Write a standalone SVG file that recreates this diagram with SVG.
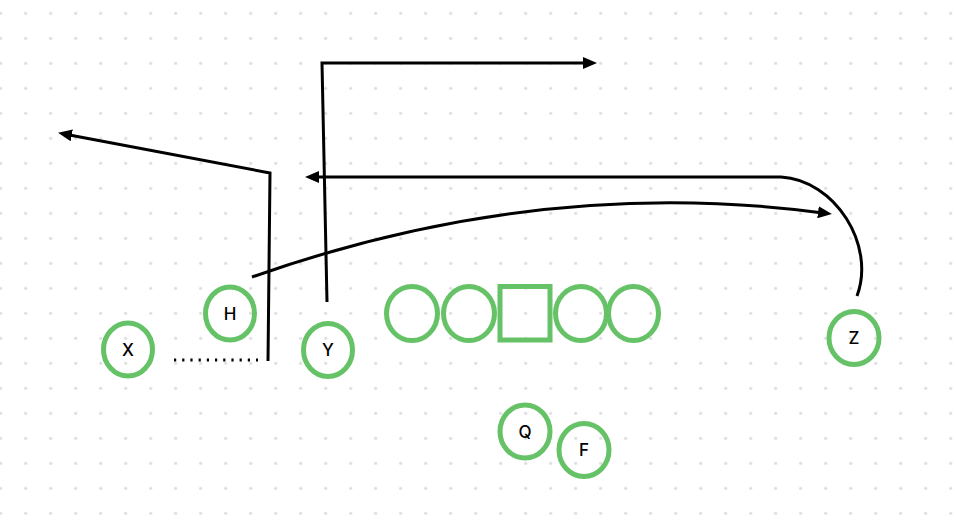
<svg xmlns="http://www.w3.org/2000/svg" width="956" height="528" viewBox="0 0 956 528">
<defs>
<pattern id="dots" patternUnits="userSpaceOnUse" x="-11.8" y="0.8" width="25" height="25">
<circle cx="12.5" cy="12.5" r="1.6" fill="#dcdcdc"/>
</pattern>
<marker id="arrow" markerUnits="userSpaceOnUse" viewBox="0 0 14 12" refX="1" refY="6" markerWidth="14" markerHeight="12" orient="auto">
<path d="M0,0 L14,6 L0,12 z" fill="#000"/>
</marker>
<style>
.p{fill:none;stroke:#66c266;stroke-width:5}
.t{font-family:Inter,"Liberation Sans",sans-serif;font-size:17px;font-weight:500;fill:#000;text-anchor:middle}
.c{fill:none;stroke:#000;stroke-width:3}
.a{marker-end:url(#arrow)}
</style>
</defs>
<rect width="956" height="528" fill="#fff"/>
<rect width="956" height="528" fill="url(#dots)"/>
<g id="connectors">
<path class="c a" d="M268,361 L270,173 L70.8,135.2"/>
<path class="c" d="M174,360 L258,360" stroke-width="2.2" stroke-dasharray="2.2 6"/>
<path class="c a" d="M327,302 L322,63 L584,63"/>
<path class="c a" d="M857,296 C876,245 835,180 781,177 L318,177"/>
<path class="c a" d="M252,277 Q539,176 819,212.4"/>
</g>
<g id="X"><ellipse class="p" cx="128" cy="349.5" rx="24.5" ry="26.5"/><text class="t" x="128" y="355.8">X</text></g>
<g id="H"><ellipse class="p" cx="230" cy="313.5" rx="24.5" ry="26.5"/><text class="t" x="230" y="319.8">H</text></g>
<g id="Y"><ellipse class="p" cx="328" cy="350" rx="24.5" ry="26.5"/><text class="t" x="328" y="356.3">Y</text></g>
<g id="OL1"><ellipse class="p" cx="412" cy="313.5" rx="25.5" ry="27"/></g>
<g id="OL2"><ellipse class="p" cx="469" cy="313.5" rx="25.5" ry="27"/></g>
<g id="C"><rect class="p" x="500" y="286.5" width="50" height="53.5"/></g>
<g id="OL4"><ellipse class="p" cx="581" cy="313.5" rx="25.5" ry="27"/></g>
<g id="OL5"><ellipse class="p" cx="633.5" cy="313.5" rx="25" ry="27"/></g>
<g id="Q"><ellipse class="p" cx="525" cy="431.5" rx="25" ry="26.5"/><text class="t" x="525" y="437.8">Q</text></g>
<g id="F"><ellipse class="p" cx="584" cy="450" rx="25" ry="26.5"/><text class="t" x="584" y="456.3">F</text></g>
<g id="Z"><ellipse class="p" cx="854" cy="338" rx="25" ry="26.5"/><text class="t" x="854" y="344.3">Z</text></g>
</svg>
